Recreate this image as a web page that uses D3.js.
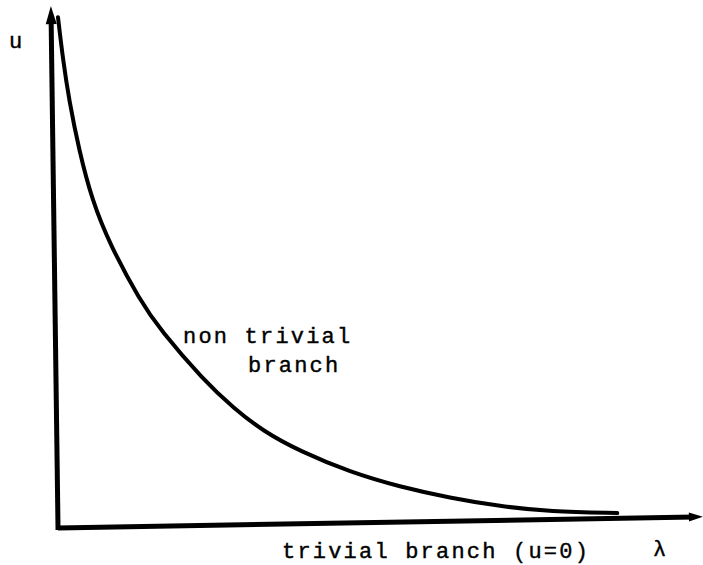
<!DOCTYPE html>
<html>
<head>
<meta charset="utf-8">
<script src="https://cdn.jsdelivr.net/npm/d3@7"></script>
<style>
  body { margin: 0; background: #fff; }
  svg { display: block; }
  text { font-family: "Liberation Mono", "DejaVu Sans Mono", monospace; fill: #000; }
</style>
</head>
<body>
<svg width="703" height="565"></svg>
<script>
// non trivial branch (lambda, u)
var lambdaVals = [0.108, 0.175, 0.258, 0.40, 0.589, 0.858, 1.31, 1.62, 2.28, 2.75, 3.20, 3.77, 4.55, 5.32, 6.10, 6.88, 7.66, 8.71];
var uVals      = [9.86, 9.03, 8.26, 7.29, 6.32, 5.45, 4.37, 3.79, 2.81, 2.25, 1.80, 1.40, 0.98, 0.68, 0.45, 0.27, 0.15, 0.10];

var axisLabels = ["u", "\u03bb"];
var branchLabel = ["non trivial", "branch"];
var trivialLabel = "trivial branch (u=0)";

var config = {
  w: 703,
  h: 565,
  ox: 60,
  oy: 528,
  xEnd: 700,
  yEnd: 10,
  tilt: -1   // the scanned axes lean a little
};

var svg = d3.select("svg");

var x = d3.scaleLinear().domain([0, 10]).range([config.ox, config.xEnd]);
var y = d3.scaleLinear().domain([0, 10]).range([config.oy, config.yEnd]);

var g = svg.append("g")
  .attr("transform", "rotate(" + config.tilt + "," + config.ox + "," + config.oy + ")");

// axes
g.append("line")
  .attr("x1", x(0) - 2).attr("y1", y(0) + 2)
  .attr("x2", x(0)).attr("y2", y(10) + 8)
  .attr("stroke", "#000").attr("stroke-width", 5);

g.append("line")
  .attr("x1", x(0) - 2).attr("y1", y(0))
  .attr("x2", x(10) - 6).attr("y2", y(0))
  .attr("stroke", "#000").attr("stroke-width", 5);

// arrow heads
g.append("path")
  .attr("d", d3.line()([[x(0), y(10) - 4], [x(0) - 5.5, y(10) + 14], [x(0) + 5.5, y(10) + 14]]) + "Z")
  .attr("fill", "#000");

g.append("path")
  .attr("d", d3.line()([[x(10) + 3, y(0)], [x(10) - 11, y(0) - 4.5], [x(10) - 11, y(0) + 4.5]]) + "Z")
  .attr("fill", "#000");

// curve
var pts = lambdaVals.map(function(d, i) { return [d, uVals[i]]; });
var line = d3.line()
  .x(function(d) { return x(d[0]); })
  .y(function(d) { return y(d[1]); })
  .curve(d3.curveBasis);

g.append("path")
  .attr("d", line(pts))
  .attr("fill", "none")
  .attr("stroke", "#000")
  .attr("stroke-width", 4)
  .attr("stroke-linecap", "round");

// labels
function label(txt, px, py) {
  svg.append("text")
    .attr("x", px).attr("y", py)
    .attr("font-size", 22)
    .attr("letter-spacing", 2.2)
    .attr("stroke", "#000")
    .attr("stroke-width", 0.4)
    .text(txt);
}

label(axisLabels[0], 9, 48);
label(axisLabels[1], 653, 556);
label(branchLabel[0], 183, 343);
label(branchLabel[1], 248, 372);
label(trivialLabel, 282, 558);
</script>
</body>
</html>
